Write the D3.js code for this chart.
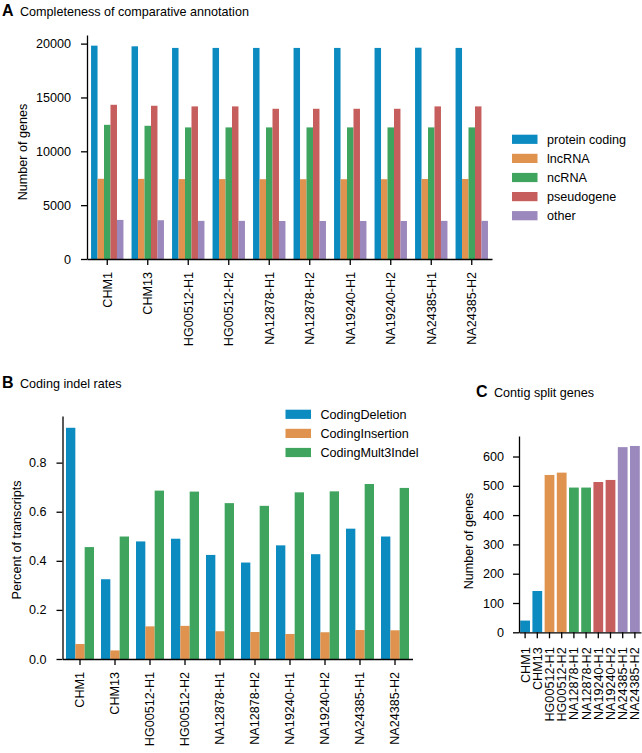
<!DOCTYPE html>
<html>
<head>
<meta charset="utf-8">
<script src="https://cdn.jsdelivr.net/npm/d3@7"></script>
<style>
  body { margin: 0; background: #fff; }
  svg { font-family: "Liberation Sans", Arial, Helvetica, sans-serif; }
  .axis path, .axis line { stroke: #000; stroke-width: 1.3; }
  .axis text { font-size: 12.6px; fill: #000; }
</style>
</head>
<body>
<svg width="642" height="753"></svg>
<script>
// Shared categories
const samples = ['CHM1', 'CHM13', 'HG00512-H1', 'HG00512-H2', 'NA12878-H1', 'NA12878-H2',
  'NA19240-H1', 'NA19240-H2', 'NA24385-H1', 'NA24385-H2'];

// Panel A
const geneTypes = ['protein coding', 'lncRNA', 'ncRNA', 'pseudogene', 'other'];
const proteinCoding = [19810, 19750, 19600, 19600, 19600, 19600, 19600, 19600, 19620, 19600];
const lncRNA = [7450, 7440, 7420, 7420, 7410, 7410, 7410, 7410, 7430, 7430];
const ncRNA = [12460, 12370, 12220, 12220, 12220, 12220, 12220, 12220, 12220, 12220];
const pseudogene = [14320, 14230, 14170, 14170, 13950, 13950, 13950, 13950, 14170, 14170];
const other = [3630, 3600, 3540, 3540, 3530, 3530, 3530, 3530, 3540, 3540];
const geneTicks = [0, 5000, 10000, 15000, 20000];

// Panel B
const indelTypes = ['CodingDeletion', 'CodingInsertion', 'CodingMult3Indel'];
const codingDeletion = [0.942, 0.325, 0.479, 0.490, 0.424, 0.393, 0.463, 0.427, 0.531, 0.499];
const codingInsertion = [0.061, 0.035, 0.133, 0.135, 0.113, 0.110, 0.102, 0.109, 0.118, 0.117];
const codingMult3Indel = [0.456, 0.499, 0.686, 0.682, 0.635, 0.624, 0.679, 0.683, 0.713, 0.697];
const indelTicks = [0, 0.2, 0.4, 0.6, 0.8];

// Panel C
const splitGenes = [40, 141, 537, 545, 494, 494, 513, 520, 632, 636];
const splitTicks = [0, 100, 200, 300, 400, 500, 600];

const colors = ['#0c8bc1', '#e0934f', '#3ea45e', '#c55e5d', '#9b88bc'];

const svg = d3.select('svg');

// Panel titles
function title(x, y, letter, text) {
  svg.append('text').attr('x', x).attr('y', y)
    .style('font-size', '16px').style('font-weight', 'bold').text(letter);
  svg.append('text').attr('x', x + 18).attr('y', y)
    .style('font-size', '12.6px').text(text);
}
title(2, 16, 'A', 'Completeness of comparative annotation');
title(2, 388, 'B', 'Coding indel rates');
title(476, 397, 'C', 'Contig split genes');

// Grouped bar chart helper
function groupedBars(opts) {
  const x = d3.scaleBand().domain(samples).range(opts.xRange);
  const y = d3.scaleLinear().domain(opts.yDomain).range(opts.yRange);
  const x1 = d3.scaleBand().domain(opts.keys)
    .range([x.bandwidth() * 0.1, x.bandwidth() * 0.9]);

  const g = svg.append('g');
  opts.series.forEach((vals, k) => {
    g.selectAll('.bar' + k)
      .data(vals)
      .enter()
      .append('rect')
      .attr('x', (d, i) => x(samples[i]) + x1(opts.keys[k]))
      .attr('y', (d) => y(d))
      .attr('width', x1.bandwidth())
      .attr('height', (d) => y(0) - y(d))
      .attr('fill', colors[k]);
  });

  svg.append('g')
    .attr('class', 'axis')
    .attr('transform', 'translate(0,' + opts.yRange[0] + ')')
    .call(d3.axisBottom(x).tickSize(6).tickSizeOuter(0).tickPadding(7))
    .selectAll('text')
    .attr('transform', 'rotate(-90)')
    .attr('text-anchor', 'end')
    .attr('x', -13)
    .attr('y', 0)
    .attr('dy', '0.35em');

  svg.append('g')
    .attr('class', 'axis')
    .attr('transform', 'translate(' + opts.xRange[0] + ',0)')
    .call(d3.axisLeft(y).tickValues(opts.ticks).tickFormat(opts.fmt)
      .tickSize(6).tickSizeOuter(0).tickPadding(10));

  svg.append('text')
    .attr('transform', 'translate(' + opts.labelX + ',' + opts.labelY + ') rotate(-90)')
    .attr('text-anchor', 'middle')
    .style('font-size', '12.6px')
    .text(opts.label);

  return { x, y };
}

function legend(x, y, keys) {
  const lg = svg.append('g').attr('transform', 'translate(' + x + ',' + y + ')');
  keys.forEach((k, i) => {
    lg.append('rect').attr('x', 0).attr('y', i * 19.1 - 4.6)
      .attr('width', 25.5).attr('height', 9.2).attr('fill', colors[i]);
    lg.append('text').attr('x', 35).attr('y', i * 19.1)
      .attr('dy', '0.35em').style('font-size', '12.6px').text(k);
  });
}

// A
groupedBars({
  keys: geneTypes,
  series: [proteinCoding, lncRNA, ncRNA, pseudogene, other],
  xRange: [87, 492],
  yDomain: [0, 20800],
  yRange: [259, 35],
  ticks: geneTicks,
  fmt: d3.format('d'),
  label: 'Number of genes',
  labelX: 27,
  labelY: 152
});
legend(512, 139.3, geneTypes);

// B
groupedBars({
  keys: indelTypes,
  series: [codingDeletion, codingInsertion, codingMult3Indel],
  xRange: [62.5, 412.5],
  yDomain: [0, 0.99],
  yRange: [659, 416],
  ticks: indelTicks,
  fmt: d3.format('.1f'),
  label: 'Percent of transcripts',
  labelX: 21,
  labelY: 540
});
legend(285.5, 414.3, indelTypes);

// C
const xc = d3.scaleBand().domain(samples).range([519, 641]);
const yc = d3.scaleLinear().domain([0, 670]).range([632.3, 436]);
svg.append('g').selectAll('rect')
  .data(splitGenes)
  .enter()
  .append('rect')
  .attr('x', (d, i) => xc(samples[i]) + xc.bandwidth() * 0.1)
  .attr('y', (d) => yc(d))
  .attr('width', xc.bandwidth() * 0.8)
  .attr('height', (d) => yc(0) - yc(d))
  .attr('fill', (d, i) => colors[Math.floor(i / 2)]);

svg.append('g')
  .attr('class', 'axis')
  .attr('transform', 'translate(0,' + yc(0) + ')')
  .call(d3.axisBottom(xc).tickSize(6).tickSizeOuter(0))
  .selectAll('text')
  .attr('transform', 'rotate(-90)')
  .attr('text-anchor', 'end')
  .attr('x', -15)
  .attr('y', 0)
  .attr('dy', '0.35em');

svg.append('g')
  .attr('class', 'axis')
  .attr('transform', 'translate(519,0)')
  .call(d3.axisLeft(yc).tickValues(splitTicks).tickSize(6).tickSizeOuter(0).tickPadding(9));

svg.append('text')
  .attr('transform', 'translate(473,541) rotate(-90)')
  .attr('text-anchor', 'middle')
  .style('font-size', '12.6px')
  .text('Number of genes');
</script>
</body>
</html>
